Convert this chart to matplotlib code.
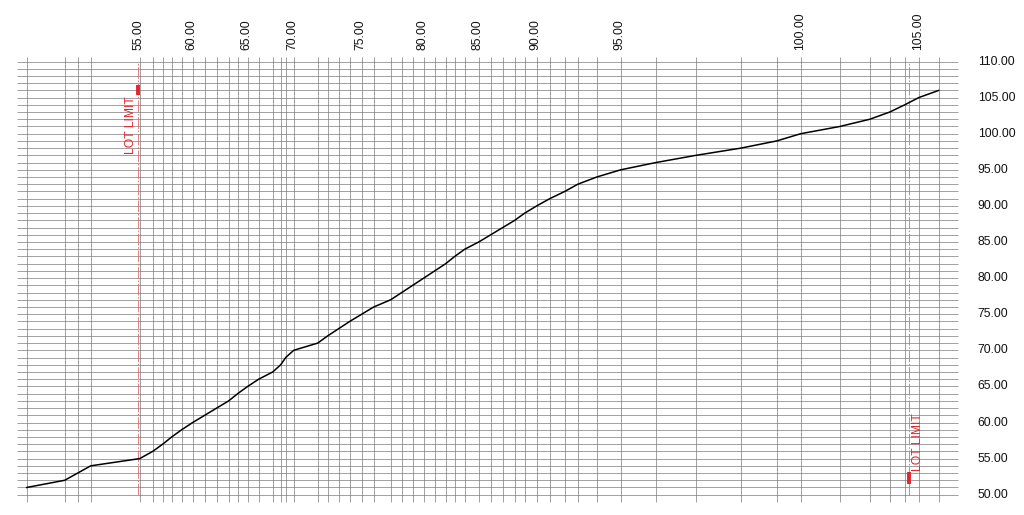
import matplotlib
matplotlib.use("Agg")
import matplotlib.pyplot as plt
import numpy as np

plt.rcParams["font.family"] = ["Liberation Sans", "DejaVu Sans"]

# chainage of each station (m) and the ground level reached there
chainage = [0.0, 3.8, 5.1, 6.4, 11.3, 12.6, 13.6, 14.5, 15.5, 16.6,
            17.8, 19.0, 20.2, 21.1, 22.1, 23.2, 24.6, 25.4, 25.9, 26.7,
            29.1, 30.1, 31.2, 32.3, 33.5, 34.7, 36.4, 37.5, 38.6, 39.7,
            40.8, 41.9, 42.8, 43.8, 45.2, 46.4, 47.6, 48.8, 49.8, 51.0,
            52.3, 53.8, 55.1, 57.0, 59.4, 62.9, 66.9, 71.4, 75.0, 77.4,
            81.3, 84.3, 86.3, 87.8, 89.2, 91.2]
level = list(range(51, 107))

lot_limits = [11.1, 88.2]
lot_marks = [(105.3, 106.8), (51.5, 53.1)]
y_labels = [50, 55, 60, 65, 70, 75, 80, 85, 90, 95, 100, 105, 110]
y_min, y_max = 50, 110

fig = plt.figure(figsize=(10.24, 5.15), dpi=100)
ax = fig.add_axes([0, 0, 1, 1])
ax.set_xlim(-2.67, 99.73)
ax.set_ylim(47.19, 118.52)
ax.axis("off")

grid_c = "#7a7a7a"
# horizontal grid, one line per metre of level
ax.hlines(np.arange(y_min, y_max + 1), -1.0, 93.1, color=grid_c, lw=0.5, zorder=1)
# vertical grid at every station
ax.vlines(chainage, y_min - 1.0, y_max + 0.65, color=grid_c, lw=0.5, zorder=1)

# profile
ax.plot(chainage, level, color="black", lw=1.1, zorder=3)

# level labels along the top at stations hitting multiples of 5
for x, v in zip(chainage, level):
    if v % 5 == 0:
        ax.text(x - 0.1, y_max + 1.6, f"{v:.2f}", rotation=90, ha="center",
                va="bottom", fontsize=8.7, color="#111111")

# right-hand scale
for v in y_labels:
    ax.text(95.1, v, f"{v:.2f}", ha="left", va="center", fontsize=8.7,
            color="#111111")

# lot limits
red = "#e3262b"
for x in lot_limits:
    ax.vlines(x, y_min, y_max, color="#e46a6a", lw=0.6,
              linestyles=[(0, (14, 2, 2, 2))], zorder=2)
for x, (a, b) in zip(lot_limits, lot_marks):
    ax.vlines(x, a, b, color=red, lw=2.8, zorder=4)
ax.text(lot_limits[0] - 0.7, 97.2, "LOT LIMIT", rotation=90, ha="center",
        va="bottom", fontsize=8.7, color=red)
ax.text(lot_limits[1] + 0.95, 53.3, "LOT LIMIT", rotation=90, ha="center",
        va="bottom", fontsize=8.7, color=red)

fig.savefig("out.png", dpi=100)
